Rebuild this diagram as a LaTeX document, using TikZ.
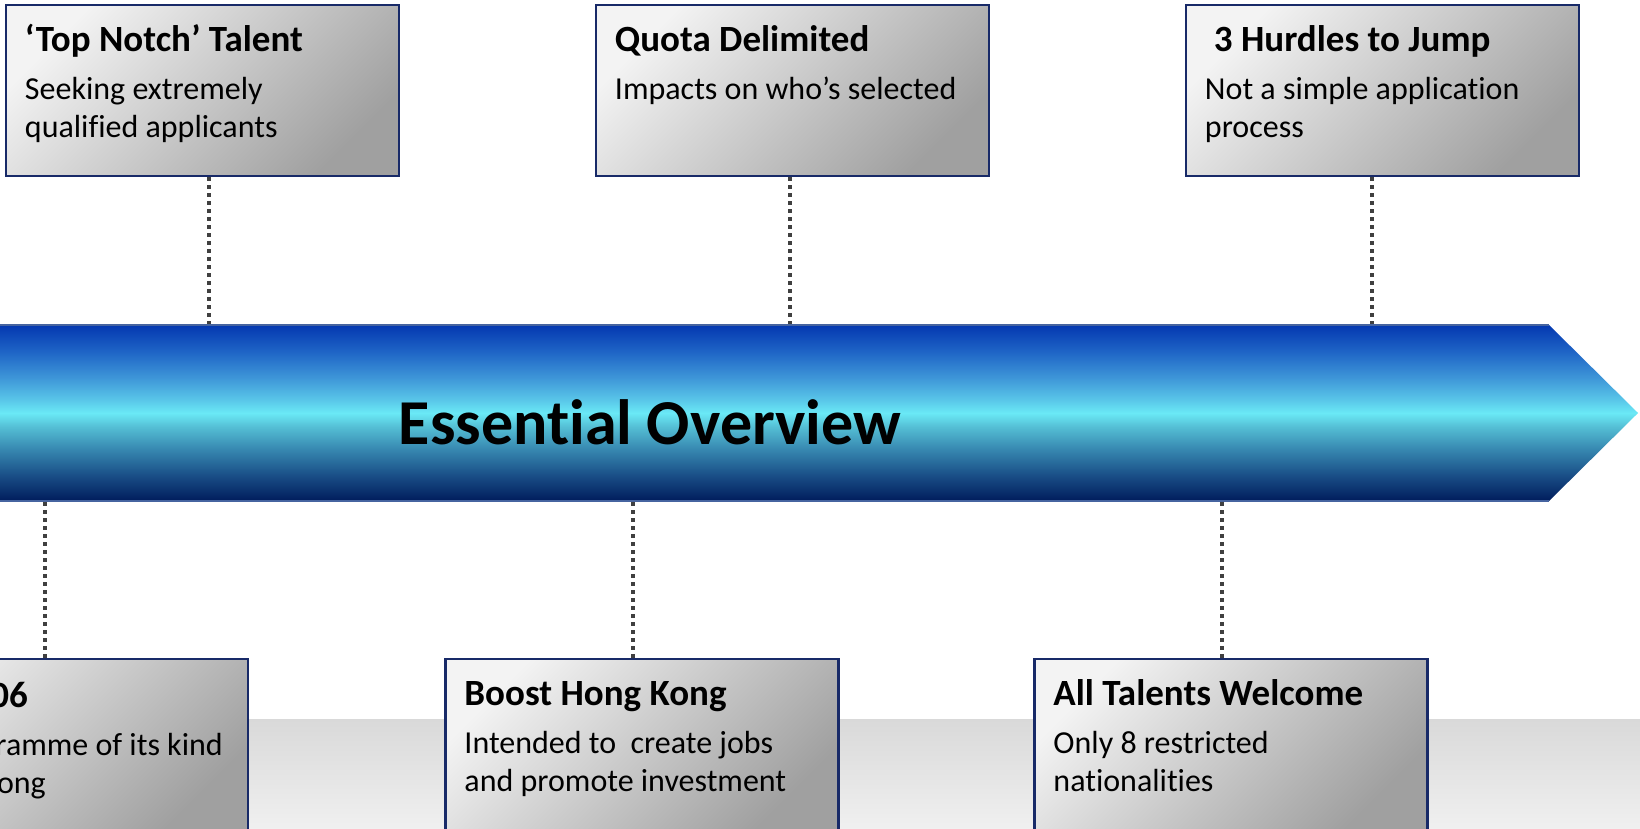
\documentclass[tikz,border=0pt]{standalone}
\usepackage{fontspec}
\setmainfont{Carlito}[Ligatures=NoCommon]
\usetikzlibrary{calc}
\definecolor{boxline}{RGB}{24,42,104}
\definecolor{boxlight}{RGB}{243,243,243}
\definecolor{boxdark}{RGB}{160,160,160}
\definecolor{dotc}{RGB}{64,64,64}
\definecolor{bandtop}{RGB}{217,217,217}
\definecolor{bandbot}{RGB}{240,240,240}
\definecolor{arrline}{RGB}{70,100,160}
\definecolor{aA}{RGB}{4,56,176}
\definecolor{aB}{RGB}{30,100,198}
\definecolor{aC}{RGB}{62,150,216}
\definecolor{aD}{RGB}{88,196,232}
\definecolor{aE}{RGB}{106,233,246}
\definecolor{aF}{RGB}{84,190,212}
\definecolor{aG}{RGB}{56,138,178}
\definecolor{aH}{RGB}{26,80,136}
\definecolor{aI}{RGB}{0,28,92}
\pgfdeclareverticalshading{arrowshade}{100bp}{color(0bp)=(aI); color(25bp)=(aI); color(32.5bp)=(aH); color(40bp)=(aG); color(46bp)=(aF); color(50bp)=(aE); color(54bp)=(aD); color(60bp)=(aC); color(67.5bp)=(aB); color(75bp)=(aA); color(100bp)=(aA)}
\tikzset{
  infobox/.style={draw=boxline, line width=2.5pt, minimum width=393pt, minimum height=171pt, inner sep=0pt, top color=boxlight, bottom color=boxdark, shading angle=45},
  boxtitle/.style={anchor=base west, inner sep=0pt, font=\fontsize{37}{44}\selectfont\bfseries},
  boxbody/.style={anchor=base west, inner sep=0pt, font=\fontsize{32}{38}\selectfont},
  conn/.style={draw=dotc, line width=4pt, dash pattern=on 4pt off 4pt},
  bigtitle/.style={anchor=base, inner sep=0pt, font=\fontsize{64}{72}\selectfont\bfseries}
}
\begin{document}
\begin{tikzpicture}[x=1pt,y=-1pt]
\useasboundingbox (0,0) rectangle (1640,828);
% background band
\shade[top color=bandtop, bottom color=bandbot] (0,719) rectangle (1640,830);
% boxes
\node[infobox] (b1) at (202.5,90.5) {};
\node[infobox] (b2) at (792.5,90.5) {};
\node[infobox] (b3) at (1382.5,90.5) {};
\node[infobox] (b4) at (51.5,744.5) {};
\node[infobox] (b5) at (642,744.5) {};
\node[infobox] (b6) at (1231,744.5) {};
% connector ends on the arrow
\coordinate (t1) at (209,325);
\coordinate (t2) at (790,325);
\coordinate (t3) at (1372,325);
\coordinate (u1) at (45,501);
\coordinate (u2) at (633,501);
\coordinate (u3) at (1222,501);
\draw[conn] (t1 |- b1.south) -- (t1);
\draw[conn] (t2 |- b2.south) -- (t2);
\draw[conn] (t3 |- b3.south) -- (t3);
\draw[conn] (u1 |- b4.north) -- (u1);
\draw[conn] (u2 |- b5.north) -- (u2);
\draw[conn] (u3 |- b6.north) -- (u3);
% arrow
\shade[shading=arrowshade] (-2,325) -- (1549,325) -- (1638,413) -- (1549,501) -- (-2,501) -- cycle;
\draw[arrline, line width=1.2pt] (-2,325) -- (1549,325);
\draw[arrline, line width=1.2pt] (-2,501) -- (1549,501);
\node[bigtitle] (main) at (650,444) {Essential Overview};
% texts top
\node[boxtitle] (h1) at ($(b1.north west)+(20,48)$) {‘Top Notch’ Talent};
\node[boxbody] (p1a) at ($(b1.north west)+(20,96)$) {Seeking extremely};
\node[boxbody] (p1b) at ($(b1.north west)+(20,134)$) {qualified applicants};
\node[boxtitle] (h2) at ($(b2.north west)+(20,48)$) {Quota Delimited};
\node[boxbody] (p2a) at ($(b2.north west)+(20,96)$) {Impacts on who’s selected};
\node[boxtitle] (h3) at ($(b3.north west)+(29,48)$) {3 Hurdles to Jump};
\node[boxbody] (p3a) at ($(b3.north west)+(20,96)$) {Not a simple application};
\node[boxbody] (p3b) at ($(b3.north west)+(20,134)$) {process};
% texts bottom
\node[boxtitle, anchor=base east] (h4) at (28,707) {Since 2006};
\node[boxbody, anchor=base east] (p4a) at (223,755) {First programme of its kind};
\node[boxbody, anchor=base east] (p4b) at (46,793) {in Hong Kong};
\node[boxtitle] (h5) at ($(b5.north west)+(20,48)$) {Boost Hong Kong};
\node[boxbody] (p5a) at ($(b5.north west)+(20,96)$) {Intended to\ \ create jobs};
\node[boxbody] (p5b) at ($(b5.north west)+(20,134)$) {and promote investment};
\node[boxtitle] (h6) at ($(b6.north west)+(20,48)$) {All Talents Welcome};
\node[boxbody] (p6a) at ($(b6.north west)+(20,96)$) {Only 8 restricted};
\node[boxbody] (p6b) at ($(b6.north west)+(20,134)$) {nationalities};
\end{tikzpicture}
\end{document}
